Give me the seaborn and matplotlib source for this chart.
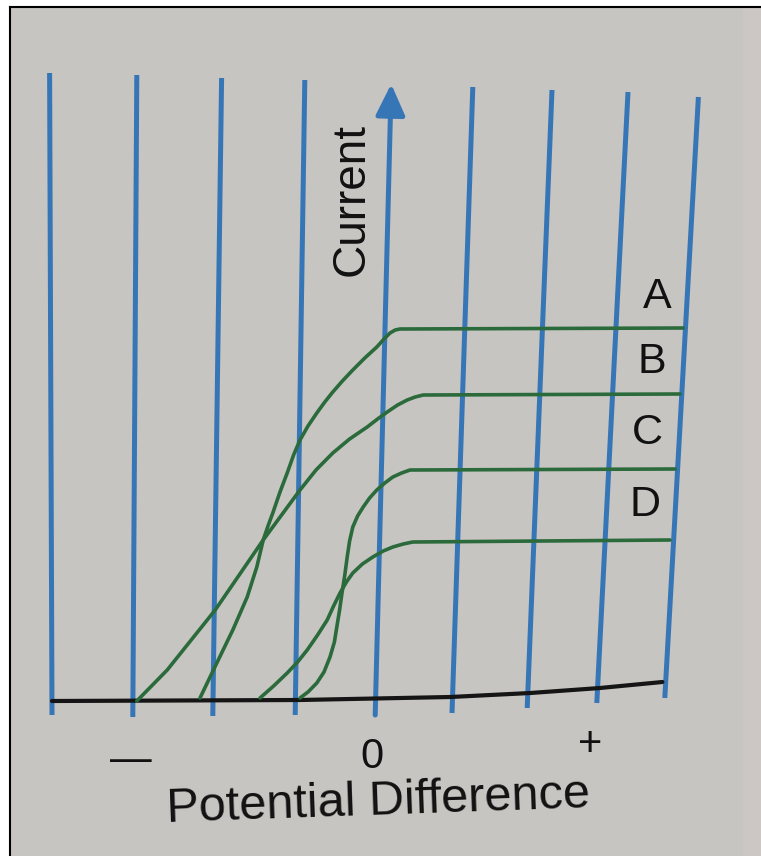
#===========================================
# Photoelectric current vs potential difference
# (saturation curves A, B, C, D)
#===========================================

import numpy as np
import pandas as pd
import matplotlib
matplotlib.use("Agg")
import matplotlib.pyplot as plt
import seaborn as sns

# -----------------------------------------
# Data
# x = potential difference (grid units), y = current
# -----------------------------------------

# vertical guide lines: x at top / bottom and y at top / bottom (photo is slightly skewed)
grid_x_top = [-4.13, -3.04, -1.98, -0.94, 0.14, 1.16, 2.15, 3.10, 3.98]
grid_x_bottom = [-4.10, -3.09, -2.09, -1.06, -0.06, 0.90, 1.84, 2.71, 3.56]
grid_y_top = [6.27, 6.25, 6.22, 6.20, 6.16, 6.13, 6.10, 6.08, 6.03]
grid_y_bottom = [-0.15, -0.17, -0.16, -0.15, -0.15, -0.13, -0.08, -0.03, 0.02]
axis_index = 4  # the current axis (with arrow)

# zero-current baseline
base_x = [-4.10, -1.00, 0.88, 1.88, 2.75, 3.53]
base_y = [-0.01, 0.00, 0.03, 0.07, 0.12, 0.18]

curve_a_x = [-2.25, -2.04, -1.84, -1.66, -1.54, -1.46, -1.40, -1.34, -1.25, -1.16, -1.08,
             -1.00, -0.90, -0.79, -0.69, -0.59, -0.47, -0.34, -0.19, -0.04, 0.05, 0.125,
             0.19, 0.25, 3.79]
curve_a_y = [0.02, 0.37, 0.70, 1.03, 1.33, 1.60, 1.74, 1.87, 2.08, 2.27, 2.45,
             2.60, 2.74, 2.87, 2.98, 3.08, 3.19, 3.30, 3.42, 3.53, 3.61, 3.67,
             3.70, 3.71, 3.72]

curve_b_x = [-3.04, -2.66, -2.06, -1.46, -1.00, -0.80, -0.59, -0.38, -0.16, -0.03, 0.09,
             0.22, 0.34, 0.44, 0.54, 3.75]
curve_b_y = [-0.01, 0.30, 0.90, 1.60, 2.10, 2.30, 2.47, 2.61, 2.73, 2.81, 2.88,
             2.95, 3.00, 3.03, 3.05, 3.06]

curve_c_x = [-1.00, -0.90, -0.79, -0.70, -0.625, -0.57, -0.54, -0.505, -0.475, -0.44,
             -0.41, -0.38, -0.34, -0.28, -0.21, -0.13, -0.04, 0.06, 0.16, 0.27, 0.375, 3.69]
curve_c_y = [0.02, 0.08, 0.17, 0.28, 0.43, 0.58, 0.73, 0.90, 1.07, 1.25,
             1.43, 1.59, 1.73, 1.84, 1.93, 2.02, 2.10, 2.17, 2.23, 2.27, 2.30, 2.31]

curve_d_x = [-1.50, -1.33, -1.16, -1.03, -0.91, -0.78, -0.66, -0.58, -0.50, -0.42,
             -0.34, -0.22, -0.09, 0.04, 0.16, 0.29, 0.41, 3.625]
curve_d_y = [0.02, 0.14, 0.27, 0.38, 0.50, 0.65, 0.80, 0.94, 1.07, 1.18,
             1.27, 1.36, 1.43, 1.49, 1.53, 1.56, 1.58, 1.60]

curve_labels = ["A", "B", "C", "D"]
label_x = [3.46, 3.40, 3.34, 3.31]
label_y = [4.03, 3.38, 2.67, 1.95]

tick_text = ["\u2014", "0", "+"]
tick_x = [-3.11, -0.10, 2.63]
tick_y = [-0.60, -0.57, -0.45]

# -----------------------------------------
# Style
# -----------------------------------------

sns.set_style("white")
plt.rcParams["font.family"] = ["Liberation Sans", "DejaVu Sans"]

BLUE = "#3776b6"
GREEN = "#2b6a3b"
PAPER = "#c6c5c2"
INK = "#111111"

fig = plt.figure(figsize=(7.61, 8.56), dpi=100, facecolor="white")
ax = fig.add_axes([10 / 761, 0, 751 / 761, 849 / 856])
ax.set_facecolor(PAPER)
ax.set_xlim(-4.625, 4.7625)
ax.set_ylim(-1.56, 6.93)
ax.set_xticks([])
ax.set_yticks([])
for side in ["right", "bottom"]:
    ax.spines[side].set_visible(False)
for side in ["left", "top"]:
    ax.spines[side].set_color("black")
    ax.spines[side].set_linewidth(1.5)

# page edge on the right
ax.axvspan(4.5375, 4.7625, color="#ccc6c5", lw=0)

# -----------------------------------------
# Vertical lines
# -----------------------------------------

for i in range(len(grid_x_top)):
    if i == axis_index:
        continue
    ax.plot([grid_x_bottom[i], grid_x_top[i]], [grid_y_bottom[i], grid_y_top[i]],
            color=BLUE, lw=3.6, solid_capstyle="butt", zorder=2)

# current axis with arrow head
ax.annotate("", xy=(grid_x_top[axis_index], grid_y_top[axis_index]),
            xytext=(grid_x_bottom[axis_index], grid_y_bottom[axis_index]),
            arrowprops=dict(arrowstyle="-|>,head_length=1.0,head_width=0.47",
                            mutation_scale=19, color=BLUE, lw=3.6,
                            shrinkA=0, shrinkB=0),
            zorder=2)

# baseline
ax.plot(base_x, base_y, color="#151515", lw=3.0, zorder=3)

# -----------------------------------------
# Curves
# -----------------------------------------

curves = pd.concat([
    pd.DataFrame({"pd": curve_a_x, "current": curve_a_y, "curve": "A"}),
    pd.DataFrame({"pd": curve_b_x, "current": curve_b_y, "curve": "B"}),
    pd.DataFrame({"pd": curve_c_x, "current": curve_c_y, "curve": "C"}),
    pd.DataFrame({"pd": curve_d_x, "current": curve_d_y, "curve": "D"}),
])
sns.lineplot(data=curves, x="pd", y="current", units="curve", estimator=None,
             sort=False, color=GREEN, lw=2.6, ax=ax, zorder=4)
ax.set_xlabel("")
ax.set_ylabel("")

# -----------------------------------------
# Text
# -----------------------------------------

for lab, x, y in zip(curve_labels, label_x, label_y):
    ax.text(x, y, lab, fontsize=31, ha="center", va="center", color=INK)

ax.text(-0.35, 5.0, "Current", fontsize=33, rotation=90, ha="center", va="center",
        color=INK)

for t, x, y in zip(tick_text, tick_x, tick_y):
    ax.text(x, y, t, fontsize=30, ha="center", va="center", color=INK)

ax.text(-0.02, -1.02, "Potential Difference", fontsize=35, rotation=2,
        ha="center", va="center", color=INK)

plt.savefig("out.png", dpi=100, facecolor="white")
